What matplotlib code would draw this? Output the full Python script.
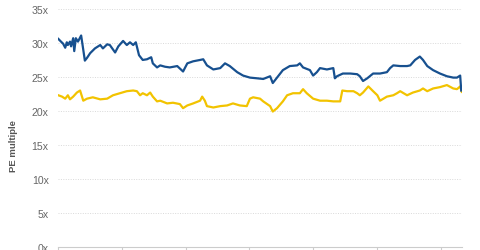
import matplotlib
matplotlib.use("Agg")
import matplotlib.pyplot as plt

plt.rcParams['font.family'] = ['Liberation Sans', 'DejaVu Sans']

# months since start of series
blue_months = [0.0, 0.5, 0.9, 1.3, 1.6, 1.8, 2.2, 2.4, 2.8, 3.0, 3.3, 3.7, 4.3, 4.7, 5.0, 5.4, 6.0, 6.9,
               7.9, 8.4, 9.2, 9.7, 10.7, 11.3, 12.2, 12.9, 13.5, 14.1, 14.6, 15.2, 15.9, 16.7, 17.5, 17.8,
               18.6, 19.2, 20.1, 21.0, 22.4, 23.5, 24.3, 25.4, 26.7, 27.3, 28.0, 29.2, 30.5, 31.4, 32.3,
               33.7, 34.8, 36.1, 37.4, 38.6, 39.9, 40.4, 41.2, 42.3, 43.6, 45.0, 45.5, 46.1, 47.4, 48.0,
               48.7, 49.3, 50.6, 51.8, 52.1, 52.5, 53.6, 55.0, 56.3, 56.8, 57.4, 58.2, 59.3, 60.6, 61.9,
               62.5, 63.1, 64.4, 65.7, 66.3, 67.2, 68.1, 68.7, 69.5, 70.6, 71.9, 73.2, 74.4, 75.1, 75.7, 75.9]
blue_pe = [30.6, 30.2, 29.9, 29.3, 30.1, 29.7, 30.2, 29.5, 30.7, 28.8, 30.7, 30.2, 31.1, 29.0, 27.4, 27.8, 28.5, 29.2,
           29.7, 29.2, 29.8, 29.7, 28.6, 29.5, 30.3, 29.7, 30.1, 29.7, 30.1, 28.2, 27.5, 27.6, 27.9, 27.0,
           26.4, 26.7, 26.5, 26.4, 26.6, 25.8, 27.0, 27.3, 27.5, 27.6, 26.7, 26.1, 26.3, 27.0, 26.6,
           25.7, 25.2, 24.9, 24.8, 24.7, 25.1, 24.1, 24.9, 26.0, 26.6, 26.7, 27.0, 26.4, 26.0, 25.2,
           25.7, 26.3, 26.1, 26.3, 24.8, 25.1, 25.5, 25.5, 25.4, 25.1, 24.4, 24.8, 25.5, 25.5, 25.7,
           26.3, 26.7, 26.6, 26.6, 26.7, 27.5, 28.0, 27.5, 26.6, 26.0, 25.5, 25.1, 24.9, 24.9, 25.2, 23.0]

yellow_months = [0.0, 0.7, 1.3, 1.8, 2.2, 2.8, 3.5, 4.1, 4.7, 5.4, 6.5, 7.9, 9.2, 10.3, 11.6, 12.9, 14.1, 14.8,
                 15.4, 15.9, 16.7, 17.3, 17.8, 18.6, 19.2, 20.5, 21.6, 22.9, 23.5, 24.3, 25.4, 26.7, 27.1,
                 27.6, 28.0, 29.2, 30.5, 31.8, 32.9, 34.2, 35.5, 36.1, 36.7, 38.0, 38.6, 39.9, 40.4, 41.2,
                 42.3, 43.1, 44.2, 45.5, 46.1, 46.8, 48.0, 49.3, 50.6, 51.8, 53.1, 53.5, 54.4, 55.6, 56.3,
                 56.8, 57.4, 58.4, 59.3, 60.1, 60.6, 61.9, 63.1, 63.8, 64.4, 65.7, 66.8, 68.1, 68.7, 69.5,
                 70.6, 71.9, 73.2, 74.4, 75.1, 75.7, 76.0]
yellow_pe = [22.3, 22.1, 21.8, 22.3, 21.7, 22.1, 22.7, 23.0, 21.5, 21.8, 22.0, 21.7, 21.8, 22.3, 22.6, 22.9, 23.0, 22.9,
             22.3, 22.6, 22.3, 22.7, 22.1, 21.4, 21.5, 21.1, 21.2, 21.0, 20.4, 20.8, 21.1, 21.5, 22.1,
             21.5, 20.7, 20.5, 20.7, 20.8, 21.1, 20.8, 20.7, 21.8, 22.0, 21.8, 21.4, 20.7, 19.9, 20.4,
             21.4, 22.3, 22.6, 22.6, 23.2, 22.6, 21.8, 21.5, 21.5, 21.4, 21.4, 23.0, 22.9, 22.9, 22.6,
             22.3, 22.7, 23.6, 22.9, 22.3, 21.5, 22.1, 22.3, 22.6, 22.9, 22.3, 22.7, 23.0, 23.3, 22.9,
             23.3, 23.5, 23.8, 23.3, 23.2, 23.6, 22.8]

y_ticks = [0, 5, 10, 15, 20, 25, 30, 35]
y_tick_labels = ["0x", "5x", "10x", "15x", "20x", "25x", "30x", "35x"]
x_ticks = [0, 12, 24, 36, 48, 60, 72]

fig = plt.figure(figsize=(4.8, 2.51), dpi=100)
ax = fig.add_axes([0.1215, 0.0131, 0.8405, 0.947])

ax.plot(yellow_months, yellow_pe, color="#f2c300", lw=1.6, solid_joinstyle="round", zorder=3)
ax.plot(blue_months, blue_pe, color="#17508f", lw=1.6, solid_joinstyle="round", zorder=4)

ax.set_xlim(0, 76)
ax.set_ylim(0, 35)
ax.set_yticks(y_ticks)
ax.set_yticklabels(y_tick_labels)
ax.set_xticks(x_ticks)
ax.set_xticklabels([""] * len(x_ticks))

for s in ["top", "right", "left"]:
    ax.spines[s].set_visible(False)
ax.spines["bottom"].set_color("#cccccc")
ax.spines["bottom"].set_linewidth(0.8)

ax.tick_params(axis="y", length=0, pad=7, labelsize=7.6, labelcolor="#666666")
ax.tick_params(axis="x", length=4, color="#cccccc", width=0.8, direction="out")

for v in y_ticks[1:]:
    ax.axhline(v, color="#d9d9d9", lw=0.7, ls=(0, (1, 1.5)), zorder=1)

fig.text(0.029, 0.42, "PE multiple", rotation=90, ha="center", va="center",
         fontsize=6.8, fontweight="bold", color="#555555")

fig.savefig("out.png", dpi=100)
